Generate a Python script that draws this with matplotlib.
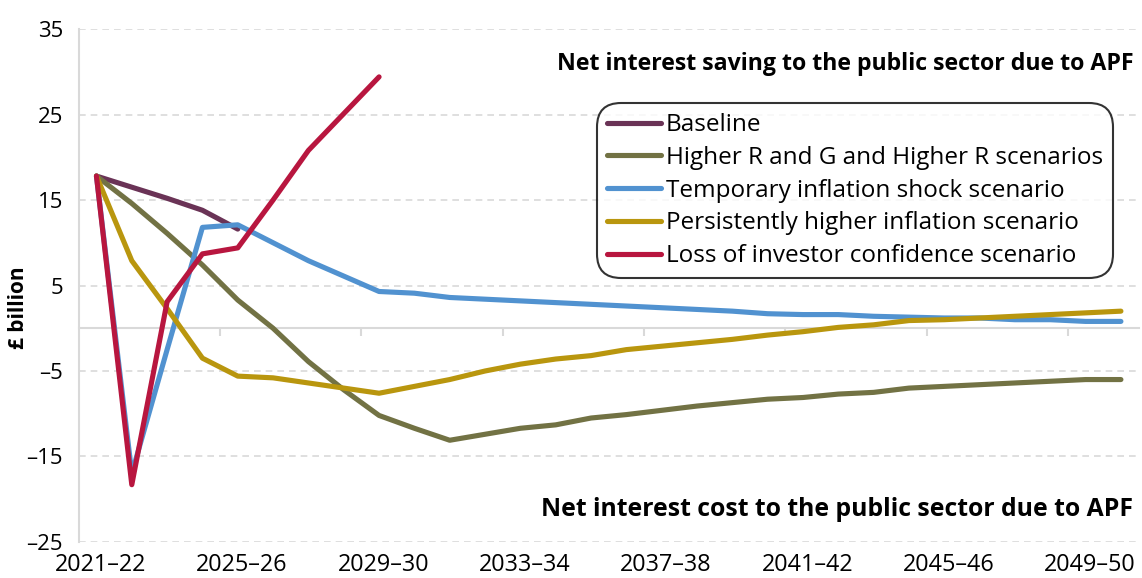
import numpy as np
import matplotlib
matplotlib.use("Agg")
import matplotlib.pyplot as plt

plt.rcParams["font.family"] = ["Open Sans", "DejaVu Sans"]

# ------------------------------------------------------------
# Data, £ billion by fiscal year
# ------------------------------------------------------------
years = [f"{y}–{(y + 1) % 100:02d}" for y in range(2021, 2051)]   # 2021–22 ... 2050–51

baseline = [17.8, 16.5, 15.2, 13.8, 11.6]
higher_r = [17.8, 14.6, 11.1, 7.4, 3.3, 0.0, -3.9, -7.2, -10.2, -11.7,
            -13.1, -12.4, -11.7, -11.3, -10.5, -10.1, -9.6, -9.1, -8.7, -8.3,
            -8.1, -7.7, -7.5, -7.0, -6.8, -6.6, -6.4, -6.2, -6.0, -6.0]
temp_infl = [17.8, -17.0, -2.5, 11.8, 12.1, 10.0, 7.9, 6.1, 4.3, 4.1,
             3.6, 3.4, 3.2, 3.0, 2.8, 2.6, 2.4, 2.2, 2.0, 1.7,
             1.6, 1.6, 1.4, 1.3, 1.2, 1.2, 1.0, 1.0, 0.8, 0.8]
persist_infl = [17.8, 7.9, 2.3, -3.5, -5.6, -5.8, -6.4, -7.0, -7.6, -6.8,
                -6.0, -5.0, -4.2, -3.6, -3.2, -2.5, -2.1, -1.7, -1.3, -0.8,
                -0.4, 0.1, 0.4, 0.9, 1.0, 1.2, 1.4, 1.6, 1.8, 2.0]
loss_conf = [17.8, -18.3, 3.1, 8.7, 9.4, 15.0, 20.8, 25.1, 29.4]

series_labels = ["Baseline",
                 "Higher R and G and Higher R scenarios",
                 "Temporary inflation shock scenario",
                 "Persistently higher inflation scenario",
                 "Loss of investor confidence scenario"]
series_colors = ["#6a3356", "#727244", "#5192d0", "#b9960e", "#b8163f"]

y_ticks = [35, 25, 15, 5, -5, -15, -25]
y_tick_labels = ["35", "25", "15", "5", "–5", "–15", "–25"]

# ------------------------------------------------------------
# Plot
# ------------------------------------------------------------
fig = plt.figure(figsize=(11.42, 5.78), dpi=100)
ax = fig.add_axes([0.069, 0.0623, 0.928, 0.8875])

grid_c = "#d9d9d9"
x = np.arange(len(years))

for vals, lab, col in zip([baseline, higher_r, temp_infl, persist_infl, loss_conf],
                          series_labels, series_colors):
    ax.plot(x[:len(vals)], vals, color=col, lw=3.7, label=lab,
            solid_capstyle="round", solid_joinstyle="round", zorder=3)

ax.set_xlim(-0.5, len(years) - 0.5)
ax.set_ylim(-25, 35)

# horizontal dashed gridlines
ax.set_yticks(y_ticks)
ax.set_yticklabels(y_tick_labels, fontsize=16)
ax.yaxis.grid(True, color=grid_c, ls=(0, (4, 3)), lw=1.2)
ax.tick_params(axis="y", length=0, pad=11.4)
ax.set_axisbelow(True)

# spines: only the left one, light grey; x axis line sits at zero
for s in ["top", "right"]:
    ax.spines[s].set_visible(False)
ax.spines["left"].set_color(grid_c)
ax.spines["left"].set_linewidth(1.5)
ax.spines["bottom"].set_position(("data", 0))
ax.spines["bottom"].set_color(grid_c)
ax.spines["bottom"].set_linewidth(1.5)
ax.set_xticks(np.arange(3.5, len(years) - 1, 4))
ax.tick_params(axis="x", length=6, width=1.5, color=grid_c, labelbottom=False)

# category labels placed at the bottom of the plot area
sec = ax.secondary_xaxis(0)
sec.set_xticks(x[::4] + 0.12)
sec.set_xticklabels(years[::4], fontsize=16.8)
sec.tick_params(length=0, pad=8)
sec.spines["bottom"].set_visible(False)

fig.text(18 / 1142, 1 - 308 / 578, "£ billion", rotation=90, ha="center", va="center",
         fontsize=15, fontweight="bold")

ax.text(0.995, 0.932, "Net interest saving to the public sector due to APF",
        transform=ax.transAxes, ha="right", va="center", fontsize=16.7, fontweight="bold")
ax.text(0.995, 0.064, "Net interest cost to the public sector due to APF",
        transform=ax.transAxes, ha="right", va="center", fontsize=17.8, fontweight="bold")

leg = ax.legend(loc="upper right", bbox_to_anchor=(0.9758, 0.8558), fontsize=17.5,
                frameon=True, fancybox=True, handlelength=2.2, handletextpad=0.2,
                labelspacing=0.36, borderpad=0.42, borderaxespad=0)
frame = leg.get_frame()
frame.set_edgecolor("black")
frame.set_linewidth(1.5)
frame.set_boxstyle("round,pad=0,rounding_size=1.0")

fig.savefig("out.png", dpi=100)
